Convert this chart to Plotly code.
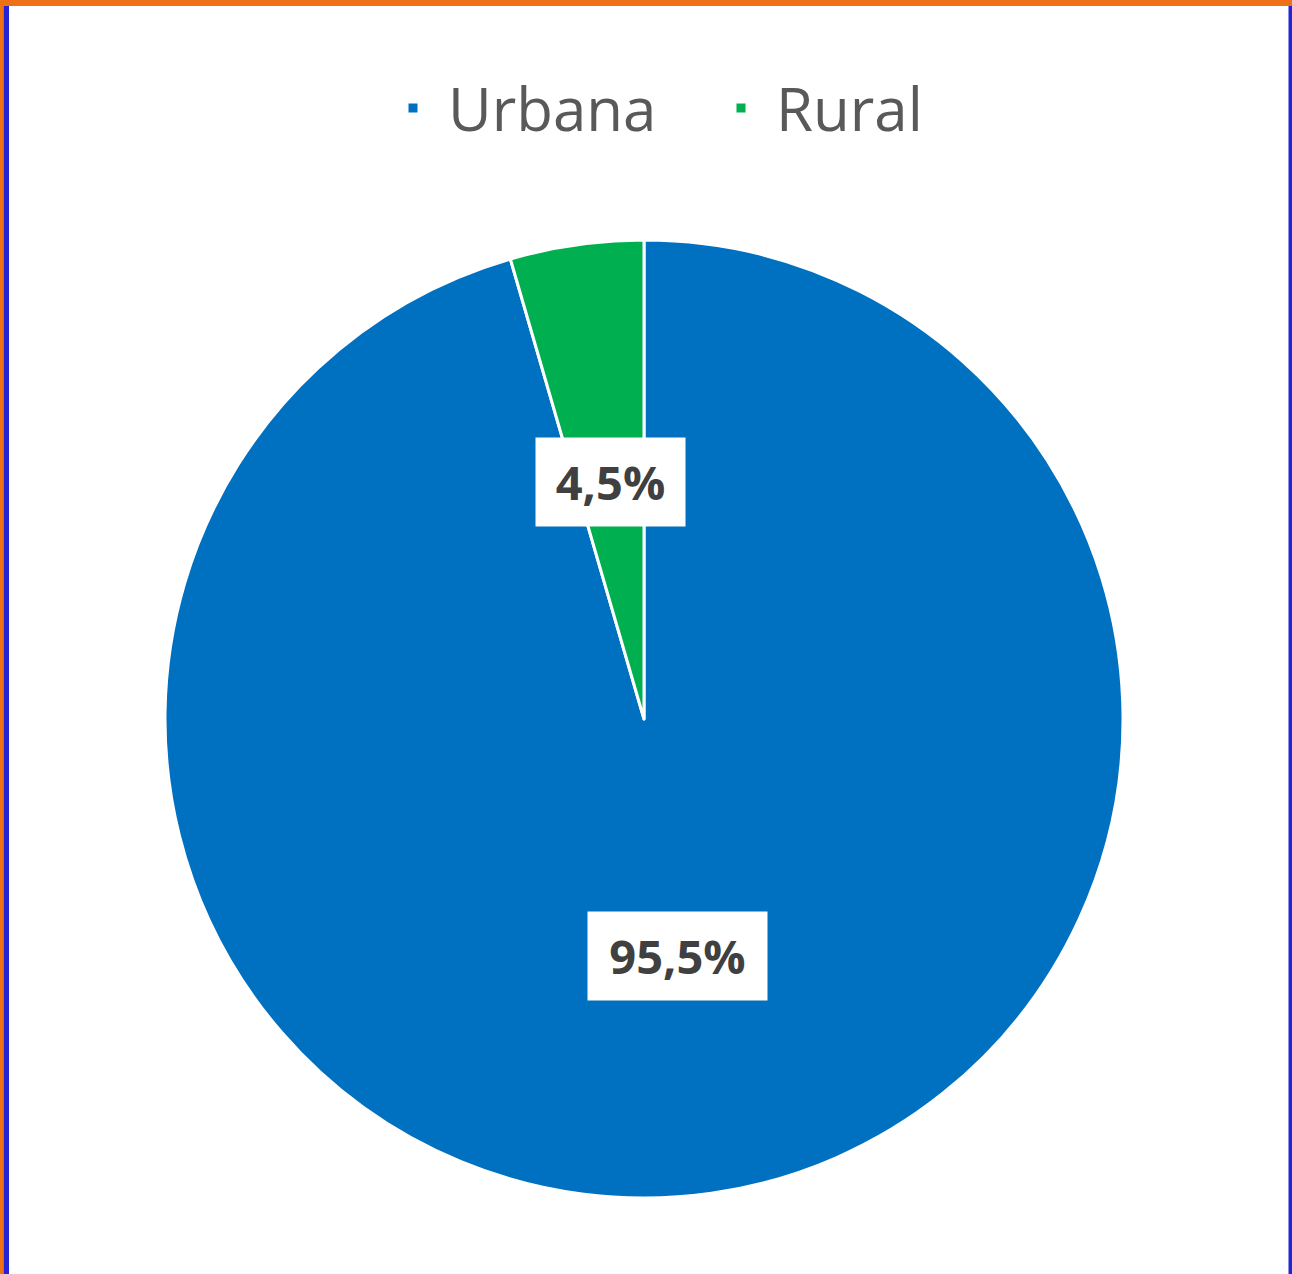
import math
import plotly.graph_objects as go

# ---- data ----
categories = ["Urbana", "Rural"]
values = [95.5, 4.5]
colors = ["#0070C0", "#00B050"]

W, H = 1292, 1274
# pie geometry in pixels (layout)
cx, cy, R = 644, 719, 479

dom_x = [(cx - R) / W, (cx + R) / W]
dom_y = [(H - cy - R) / H, (H - cy + R) / H]

fig = go.Figure()
fig.add_trace(go.Pie(
    labels=categories,
    values=values,
    sort=False,
    direction="clockwise",
    rotation=0,
    textinfo="none",
    hoverinfo="label+percent",
    marker=dict(colors=colors, line=dict(color="white", width=3)),
    domain=dict(x=dom_x, y=dom_y),
))

# data labels in white boxes at mid-angle, half radius
total = sum(values)
cum = 0.0
annotations = []
for cat, v in zip(categories, values):
    mid = (cum + v / 2) / total
    cum += v
    theta = 2 * math.pi * mid
    px = cx + 0.5 * R * math.sin(theta)
    py = cy - 0.5 * R * math.cos(theta)
    label = f"{v:.1f}".replace(".", ",") + "%"
    annotations.append(dict(
        x=px / W, y=(H - py) / H, xref="paper", yref="paper",
        text=label, showarrow=False,
        font=dict(family="Open Sans", size=47, color="#404040", weight="bold"),
        width=30 * len(label) + 5,
        bgcolor="white", borderpad=12, xanchor="center", yanchor="middle",
    ))

# frame decorations
shapes = [
    dict(type="rect", xref="paper", yref="paper", x0=0, x1=1, y0=(H - 6) / H, y1=1,
         fillcolor="#F07018", line=dict(width=0), layer="above"),
    dict(type="rect", xref="paper", yref="paper", x0=0, x1=3.5 / W, y0=0, y1=(H - 6) / H,
         fillcolor="#F07018", line=dict(width=0), layer="above"),
    dict(type="rect", xref="paper", yref="paper", x0=3.5 / W, x1=9 / W, y0=0, y1=(H - 6) / H,
         fillcolor="#2424D4", line=dict(width=0), layer="above"),
    dict(type="rect", xref="paper", yref="paper", x0=(W - 3.5) / W, x1=1, y0=0, y1=(H - 6) / H,
         fillcolor="#2424D4", line=dict(width=0), layer="above"),
]

fig.update_layout(
    width=W, height=H,
    margin=dict(l=0, r=0, t=0, b=0),
    paper_bgcolor="white", plot_bgcolor="white",
    font=dict(family="Open Sans"),
    showlegend=True,
    legend=dict(
        orientation="h", x=378 / W, xanchor="left", y=(H - 108) / H, yanchor="middle",
        font=dict(family="Open Sans", size=60, color="#595959"),
        itemwidth=60, entrywidth=253, entrywidthmode="pixels",
        bgcolor="rgba(0,0,0,0)",
    ),
    annotations=annotations,
    shapes=shapes,
)

fig.write_html(
    "out.html",
    config={"displayModeBar": False},
    post_script="document.body.style.margin='0px';document.body.style.overflow='hidden';",
)
